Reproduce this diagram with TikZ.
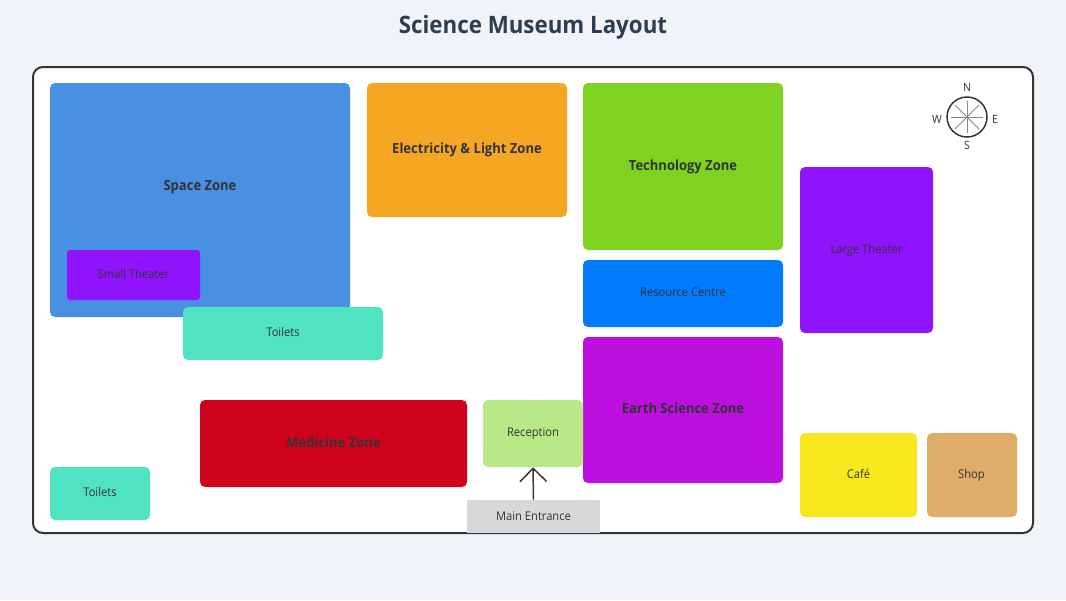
\documentclass[tikz,border=0pt]{standalone}
\usepackage{fontspec}
\setmainfont[FakeStretch=0.93]{Open Sans}
\usetikzlibrary{arrows.meta,calc}
\definecolor{bgc}{HTML}{F0F4F8}
\definecolor{titlec}{HTML}{2C3E50}
\definecolor{framec}{HTML}{333333}
\definecolor{spacec}{HTML}{4A90E2}
\definecolor{elecc}{HTML}{F5A623}
\definecolor{techc}{HTML}{7ED321}
\definecolor{resc}{HTML}{007AFF}
\definecolor{earthc}{HTML}{BD10E0}
\definecolor{theatc}{HTML}{9013FE}
\definecolor{toilc}{HTML}{50E3C2}
\definecolor{medc}{HTML}{D0021B}
\definecolor{recc}{HTML}{B8E986}
\definecolor{entc}{HTML}{D8D8D8}
\definecolor{cafec}{HTML}{F8E71C}
\definecolor{shopc}{HTML}{E0AC69}
\definecolor{gline}{HTML}{888888}
\tikzset{
  x=0.75pt,y=-0.75pt,
  room/.style={rectangle,rounded corners=3.75pt,inner sep=0pt,anchor=center},
  sz/.style 2 args={minimum width=#1*0.75pt,minimum height=#2*0.75pt},
  lab/.style={inner sep=0pt,anchor=base,text=framec,font=\fontsize{9}{11}\selectfont},
  zonelab/.style={inner sep=0pt,anchor=base,text=framec,font=\fontsize{10.5}{13}\selectfont\bfseries},
  cmp/.style={inner sep=0pt,anchor=base,text=framec,font=\fontsize{8.5}{10}\selectfont},
  spoke/.style={draw=gline,line width=0.75pt},
}
\begin{document}
\begin{tikzpicture}
\useasboundingbox (0,0) rectangle (1066,600);
\fill[bgc] (0,0) rectangle (1066,600);
\node[anchor=base,inner sep=0pt,text=titlec,font=\fontsize{18}{22}\selectfont\bfseries] (title) at (533,33) {Science Museum Layout};
\node[rectangle,draw=framec,fill=white,line width=1.5pt,rounded corners=7.5pt,inner sep=0pt,sz={1000}{466}] (floor) at (533,300) {};
\node[room,fill=spacec,sz={300}{234}] (space) at (200,200) {};
\node[zonelab] (spacel) at (200,190) {Space Zone};
\node[room,fill=elecc,sz={200}{134}] (elec) at (467,150) {};
\node[zonelab] (elecl) at (467,153) {Electricity \& Light Zone};
\node[room,fill=techc,sz={200}{167}] (tech) at (683,166.5) {};
\node[zonelab] (techl) at (683,170) {Technology Zone};
\node[room,fill=resc,sz={200}{67}] (res) at (683,293.5) {};
\node[lab] (resl) at (683,296) {Resource Centre};
\node[room,fill=earthc,sz={200}{146}] (earth) at (683,410) {};
\node[zonelab] (earthl) at (683,413) {Earth Science Zone};
\node[room,fill=theatc,sz={133}{166}] (large) at (866.5,250) {};
\node[lab] (largel) at (866.5,253.5) {Large Theater};
\node[room,rounded corners=2.25pt,fill=theatc,sz={133}{50}] (small) at (133.5,275) {};
\node[lab] (smalll) at (133.5,278) {Small Theater};
\node[room,fill=toilc,sz={200}{53}] (toila) at (283,333.5) {};
\node[lab] (toilal) at (283,336) {Toilets};
\node[room,fill=medc,sz={267}{87}] (med) at (333.5,443.5) {};
\node[zonelab] (medl) at (333.5,447) {Medicine Zone};
\node[room,fill=recc,sz={100}{67}] (rec) at (533,433.5) {};
\node[lab] (recl) at (533,436) {Reception};
\node[rectangle,fill=entc,inner sep=0pt,sz={133}{33}] (ent) at (533.5,516.5) {};
\node[lab] (entl) at (533.5,520) {Main Entrance};
\node[room,fill=toilc,sz={100}{53}] (toilb) at (100,493.5) {};
\node[lab] (toilbl) at (100,496) {Toilets};
\node[room,fill=cafec,sz={117}{84}] (cafe) at (858.5,475) {};
\node[lab] (cafel) at (858.5,478) {Café};
\node[room,fill=shopc,sz={90}{84}] (shop) at (972,475) {};
\node[lab] (shopl) at (971.5,478) {Shop};
\draw[framec,line width=1.1pt,-{Straight Barb[length=10pt,width=20pt,line width=1.1pt]}] (ent.north) -- (rec.south);
\node[circle,draw=framec,fill=white,line width=1.1pt,inner sep=0pt,minimum size=30pt] (compass) at (967,117) {};
\draw[spoke] ($(compass.center)+(0,-16)$) -- ($(compass.center)+(0,16)$);
\draw[spoke] ($(compass.center)+(-16,0)$) -- ($(compass.center)+(16,0)$);
\draw[spoke] ($(compass.center)+(-12,-12)$) -- ($(compass.center)+(12,12)$);
\draw[spoke] ($(compass.center)+(-12,12)$) -- ($(compass.center)+(12,-12)$);
\node[cmp] (n) at (967,91.5) {N};
\node[cmp] (s) at (967,149.5) {S};
\node[cmp] (w) at (937,123.5) {W};
\node[cmp] (e) at (995,123.5) {E};
\end{tikzpicture}
\end{document}
